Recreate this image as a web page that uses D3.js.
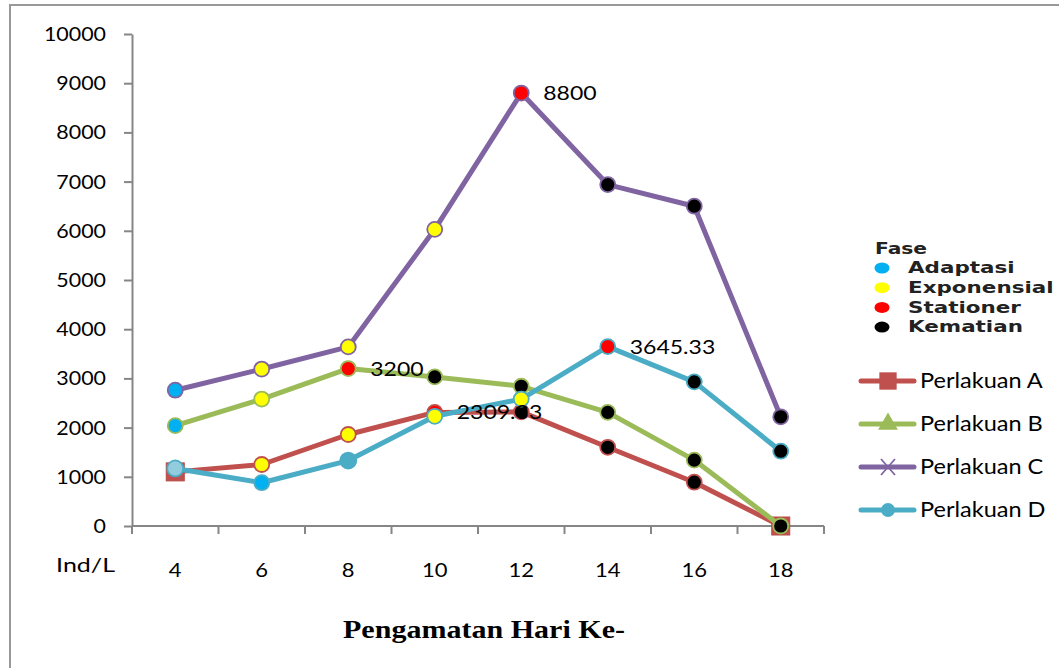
<!DOCTYPE html>
<html>
<head>
<meta charset="utf-8">
<script src="https://cdn.jsdelivr.net/npm/d3@7"></script>
<style>
    body { margin: 0; background: #fff; }
    text { font-family: Lato, "Open Sans", sans-serif; }
</style>
</head>
<body>
<svg id="mainFrame"></svg>
<script>
// Hari pengamatan (x axis categories)
const days = [4, 6, 8, 10, 12, 14, 16, 18];
const yTicks = [0, 1000, 2000, 3000, 4000, 5000, 6000, 7000, 8000, 9000, 10000];

// Kepadatan (Ind/L) per perlakuan
const perlakuanA = [1100, 1250, 1860, 2309.33, 2320, 1600, 890, 0];
const perlakuanB = [2040, 2580, 3200, 3030, 2840, 2310, 1340, 0];
const perlakuanC = [2760, 3190, 3640, 6030, 8800, 6940, 6500, 2220];
const perlakuanD = [1170, 880, 1330, 2230, 2580, 3645.33, 2930, 1520];

// Fase per point (null = the plain series marker)
const faseA = [null, 'exponensial', 'exponensial', 'stationer', 'kematian', 'kematian', 'kematian', null];
const faseB = ['adaptasi', 'exponensial', 'stationer', 'kematian', 'kematian', 'kematian', 'kematian', 'kematian'];
const faseC = ['adaptasi', 'exponensial', 'exponensial', 'exponensial', 'stationer', 'kematian', 'kematian', 'kematian'];
const faseD = ['pale', 'adaptasi', null, 'exponensial', 'exponensial', 'stationer', 'kematian', 'kematian'];

const seriesNames = ['Perlakuan A', 'Perlakuan B', 'Perlakuan C', 'Perlakuan D'];
const faseNames = ['Adaptasi', 'Exponensial', 'Stationer', 'Kematian'];

// labelled points: [series index, day index, text]
const dataLabels = [
    [2, 4, '8800'],
    [1, 2, '3200'],
    [0, 3, '2309.33'],
    [3, 5, '3645.33']
];

const width = 1059, height = 668;
const svg = d3.select('#mainFrame')
    .attr('width', width)
    .attr('height', height);

// the original picture is a bit wider than tall, so text gets stretched sideways
const stretch = (sel, k) => sel.each(function() {
    const w = this.getComputedTextLength();
    d3.select(this)
        .attr('textLength', w * k)
        .attr('lengthAdjust', 'spacingAndGlyphs');
});

const render = () => {
    const seriesColors = ['#c0504d', '#9bbb59', '#8064a2', '#4bacc6'];
    const symbols = [d3.symbolSquare, d3.symbolTriangle, null, d3.symbolCircle];
    const faseColors = {
        adaptasi: '#00b0f0',
        exponensial: '#ffff00',
        stationer: '#ff0000',
        kematian: '#000000',
        pale: '#93cddd'
    };
    const series = [perlakuanA, perlakuanB, perlakuanC, perlakuanD];
    const fases = [faseA, faseB, faseC, faseD];
    const axisColor = '#868686';

    const margin = { top: 34, left: 132, right: 235, bottom: 142 };
    const innerWidth = 824 - margin.left;
    const innerHeight = 526 - margin.top;

    // outer frame of the chart
    svg.append('rect')
        .attr('x', 10).attr('y', 5)
        .attr('width', 1200).attr('height', 800)
        .attr('fill', 'none')
        .attr('stroke', '#999')
        .attr('stroke-width', 2);

    const xScale = d3.scaleBand()
        .domain(days)
        .range([0, innerWidth]);

    const yScale = d3.scaleLinear()
        .domain([0, 10000])
        .range([innerHeight, 0]);

    const xPos = d => xScale(d) + xScale.bandwidth() / 2;

    const g = svg.append('g')
        .attr('transform', `translate(${margin.left},${margin.top})`);

    // y axis
    const yAxis = g.append('g')
        .call(d3.axisLeft(yScale).tickValues(yTicks).tickSize(8).tickSizeOuter(0).tickPadding(18).tickFormat(d3.format('d')));
    yAxis.select('.domain').attr('stroke', axisColor).attr('stroke-width', 2);
    yAxis.selectAll('.tick line').attr('stroke', axisColor).attr('stroke-width', 2);
    yAxis.selectAll('.tick text')
        .attr('font-size', 20)
        .attr('fill', '#000')
        .style('font-family', 'Lato, sans-serif')
        .call(stretch, 1.07);

    // x axis: ticks sit between categories, like Excel
    const xAxisG = g.append('g').attr('transform', `translate(0,${innerHeight})`);
    xAxisG.append('line')
        .attr('x1', 0).attr('x2', innerWidth)
        .attr('stroke', axisColor).attr('stroke-width', 2);
    const edges = d3.range(days.length + 1).map(i => i * xScale.step());
    xAxisG.selectAll('.xtick').data(edges)
        .enter().append('line')
            .attr('class', 'xtick')
            .attr('x1', d => d).attr('x2', d => d)
            .attr('y1', 0).attr('y2', 8)
            .attr('stroke', axisColor).attr('stroke-width', 2);
    xAxisG.selectAll('.xlabel').data(days)
        .enter().append('text')
            .attr('class', 'xlabel')
            .attr('x', d => xPos(d))
            .attr('y', 51)
            .attr('text-anchor', 'middle')
            .attr('font-size', 20)
            .text(d => d)
            .call(stretch, 1.1);

    svg.append('text')
        .attr('x', 115).attr('y', 572)
        .attr('text-anchor', 'end')
        .attr('font-size', 20)
        .text('Ind/L')
        .call(stretch, 1.25);

    svg.append('text')
        .attr('x', 484).attr('y', 638)
        .attr('text-anchor', 'middle')
        .attr('font-size', 25)
        .attr('font-weight', 'bold')
        .attr('textLength', 282)
        .attr('lengthAdjust', 'spacingAndGlyphs')
        .style('font-family', '"Liberation Serif", serif')
        .text('Pengamatan Hari Ke-');

    const line = d3.line()
        .x((d, i) => xPos(days[i]))
        .y(d => yScale(d));

    // each series: line then its markers
    series.forEach((values, s) => {
        const sg = g.append('g').attr('class', 'series');
        sg.append('path')
            .datum(values)
            .attr('d', line)
            .attr('fill', 'none')
            .attr('stroke', seriesColors[s])
            .attr('stroke-width', 5)
            .attr('stroke-linejoin', 'round')
            .attr('stroke-linecap', 'round');

        values.forEach((v, i) => {
            const fase = fases[s][i];
            const cx = xPos(days[i]), cy = yScale(v);
            if (fase === null && s === 0) {
                sg.append('rect')
                    .attr('x', cx - 9).attr('y', cy - 9)
                    .attr('width', 18).attr('height', 18)
                    .attr('fill', seriesColors[s])
                    .attr('stroke', '#b64a47')
                    .attr('stroke-width', 1);
            } else {
                sg.append('circle')
                    .attr('cx', cx).attr('cy', cy)
                    .attr('r', fase === null || fase === 'pale' ? 8 : 7.5)
                    .attr('fill', fase === null ? seriesColors[s] : faseColors[fase])
                    .attr('stroke', seriesColors[s])
                    .attr('stroke-width', 1.8);
            }
        });
    });

    // data labels
    g.selectAll('.dataLabel').data(dataLabels)
        .enter().append('text')
            .attr('class', 'dataLabel')
            .attr('x', d => xPos(days[d[1]]) + 22)
            .attr('y', d => yScale(series[d[0]][d[1]]))
            .attr('dy', '0.35em')
            .attr('font-size', 20)
            .text(d => d[2])
            .call(stretch, 1.15);

    // legend: phases (small bold block)
    const fl = svg.append('g').attr('transform', 'translate(875,0)');
    fl.append('text')
        .attr('x', 0).attr('y', 254)
        .attr('font-size', 15)
        .attr('font-weight', 'bold')
        .attr('fill', '#222')
        .style('font-family', '"DejaVu Sans", sans-serif')
        .text('Fase')
        .call(stretch, 1.35);
    const faseRows = fl.selectAll('.faseRow').data(faseNames)
        .enter().append('g')
            .attr('class', 'faseRow')
            .attr('transform', (d, i) => `translate(0,${268 + i * 19.7})`);
    faseRows.append('ellipse')
        .attr('cx', 7).attr('cy', 0)
        .attr('rx', 7.5).attr('ry', 5.5)
        .attr('fill', d => faseColors[d.toLowerCase()]);
    faseRows.append('text')
        .attr('x', 33).attr('y', 0)
        .attr('dy', '0.35em')
        .attr('font-size', 15)
        .attr('font-weight', 'bold')
        .attr('fill', '#222')
        .style('font-family', '"DejaVu Sans", sans-serif')
        .text(d => d)
        .call(stretch, 1.43);

    // legend: series
    const sl = svg.append('g').attr('transform', 'translate(861,0)');
    const seriesRows = sl.selectAll('.seriesRow').data(seriesNames)
        .enter().append('g')
            .attr('class', 'seriesRow')
            .attr('transform', (d, i) => `translate(0,${381 + i * 43})`);
    seriesRows.append('line')
        .attr('x1', 0).attr('x2', 53)
        .attr('stroke', (d, i) => seriesColors[i])
        .attr('stroke-width', 5)
        .attr('stroke-linecap', 'round');
    seriesRows.each(function(d, i) {
        const row = d3.select(this);
        if (symbols[i]) {
            row.append('path')
                .attr('transform', 'translate(27,0)')
                .attr('d', d3.symbol(symbols[i], i === 0 ? 300 : (i === 1 ? 170 : 150))())
                .attr('fill', seriesColors[i]);
        } else {
            row.append('path')
                .attr('d', 'M20,-8L34,8M20,8L34,-8')
                .attr('stroke', seriesColors[i])
                .attr('stroke-width', 1.8);
        }
    });
    seriesRows.append('text')
        .attr('x', 59).attr('y', 0)
        .attr('dy', '0.35em')
        .attr('font-size', 21)
        .text(d => d)
        .call(stretch, 1.12);
};

render();
</script>
</body>
</html>
